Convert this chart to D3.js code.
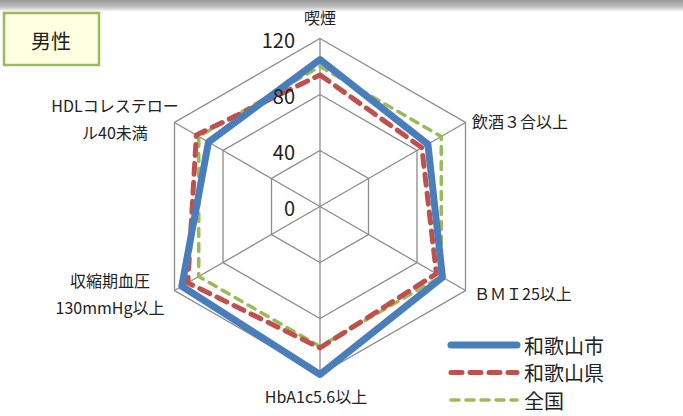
<!DOCTYPE html>
<html lang="ja">
    <head>
        <meta charset="utf-8">
        <title>D3: 男性 レーダーチャート</title>
        <script src="https://d3js.org/d3.v7.min.js"></script>
        <style type="text/css">
         body { margin: 0; background: #fff; }
         text { font-family: "Noto Sans CJK JP", "Noto Sans", sans-serif; fill: #222; }
        </style>
    </head>
    <body>
        <script type="text/javascript">
         //Data
         var categories = ["喫煙", "飲酒３合以上", "ＢＭＩ25以上", "HbA1c5.6以上", "収縮期血圧130mmHg以上", "HDLコレステロール40未満"];
         var cityValues = [105, 89, 101, 120, 114, 92];
         var prefValues = [94, 84, 96, 101, 109, 102];
         var nationValues = [100, 100, 100, 100, 100, 100];
         var seriesNames = ["和歌山市", "和歌山県", "全国"];
         var tickValues = [0, 40, 80, 120];

         //Width and height
         var width = 683;
         var height = 416;
         var cx = 320, cy = 206.5;

         var r = d3.scaleLinear().domain([0, 120]).range([0, 168]);
         var angle = d3.scalePoint().domain(d3.range(categories.length)).range([0, 2 * Math.PI * 5 / 6]);

         var svg = d3.select("body")
                     .append("svg")
                     .attr("width", width)
                     .attr("height", height);

         //Top shadow band
         var grad = svg.append("defs").append("linearGradient")
                       .attr("id", "shade").attr("x1", 0).attr("y1", 0).attr("x2", 0).attr("y2", 1);
         grad.append("stop").attr("offset", "0%").attr("stop-color", "#9a9a9a");
         grad.append("stop").attr("offset", "50%").attr("stop-color", "#b8b8b8");
         grad.append("stop").attr("offset", "100%").attr("stop-color", "#ffffff");
         svg.append("rect").attr("x", 0).attr("y", 0).attr("width", width).attr("height", 12)
            .attr("fill", "url(#shade)");

         //Title box
         svg.append("rect")
            .attr("x", 4).attr("y", 13).attr("width", 95).attr("height", 52)
            .attr("fill", "#ffffe1")
            .attr("stroke", "#9bbb59")
            .attr("stroke-width", 2.5);
         svg.append("text")
            .attr("x", 51).attr("y", 40)
            .attr("text-anchor", "middle")
            .attr("dominant-baseline", "central")
            .style("font-size", "20px")
            .text("男性");

         var g = svg.append("g").attr("transform", "translate(" + cx + "," + cy + ")");

         var radial = d3.lineRadial()
                        .angle(function(d, i) { return angle(i); })
                        .radius(function(d) { return r(d); })
                        .curve(d3.curveLinearClosed);

         //Grid rings
         g.selectAll(".ring")
          .data(tickValues.slice(1))
          .enter()
          .append("path")
          .attr("d", function(t) { return radial(categories.map(function() { return t; })); })
          .attr("fill", "none")
          .attr("stroke", "#8c8c8c")
          .attr("stroke-width", 1.3);

         //Spokes
         g.selectAll(".spoke")
          .data(categories)
          .enter()
          .append("line")
          .attr("x1", 0).attr("y1", 0)
          .attr("x2", function(d, i) { return r(120) * Math.sin(angle(i)); })
          .attr("y2", function(d, i) { return -r(120) * Math.cos(angle(i)); })
          .attr("stroke", "#8c8c8c")
          .attr("stroke-width", 1.3);

         //Series
         var series = [
             {name: seriesNames[0], values: cityValues, color: "#4a7ebb", width: 7, dash: null},
             {name: seriesNames[1], values: prefValues, color: "#c0504d", width: 5, dash: "11,8"},
             {name: seriesNames[2], values: nationValues, color: "#9bbb59", width: 3.5, dash: "8,7"}
         ];

         g.selectAll(".series")
          .data(series.slice().reverse())
          .enter()
          .append("path")
          .attr("d", function(s) { return radial(s.values); })
          .attr("fill", "none")
          .attr("stroke", function(s) { return s.color; })
          .attr("stroke-width", function(s) { return s.width; })
          .attr("stroke-dasharray", function(s) { return s.dash; })
          .attr("stroke-linejoin", "round")
          .attr("stroke-linecap", "round");

         //Tick labels (on top of the lines)
         g.selectAll(".tick")
          .data(tickValues)
          .enter()
          .append("text")
          .attr("x", -25)
          .attr("y", function(t) { return -r(t) + 1; })
          .attr("text-anchor", "end")
          .attr("dominant-baseline", "central")
          .style("font-size", "20px")
          .text(function(t) { return t; });

         //Category labels
         var labelLines = [
             {lines: ["喫煙"], x: 320, y: 17, anchor: "middle"},
             {lines: ["飲酒３合以上"], x: 472, y: 121, anchor: "start"},
             {lines: ["ＢＭＩ25以上"], x: 474, y: 293, anchor: "start"},
             {lines: ["HbA1c5.6以上"], x: 316, y: 396, anchor: "middle"},
             {lines: ["収縮期血圧", "130mmHg以上"], x: 110, y: 280, anchor: "middle"},
             {lines: ["HDLコレステロー", "ル40未満"], x: 115, y: 105, anchor: "middle"}
         ];
         labelLines.forEach(function(l) {
             var t = svg.append("text")
                        .attr("text-anchor", l.anchor)
                        .style("font-size", "16px");
             l.lines.forEach(function(line, i) {
                 t.append("tspan")
                  .attr("x", l.x)
                  .attr("y", l.y + i * 27)
                  .attr("dominant-baseline", "central")
                  .text(line);
             });
         });

         //Legend
         var legend = svg.selectAll(".legend")
                         .data(series)
                         .enter()
                         .append("g")
                         .attr("transform", function(s, i) { return "translate(449," + (345 + i * 27.5) + ")"; });
         legend.append("line")
               .attr("x1", 2).attr("x2", 68)
               .attr("stroke", function(s) { return s.color; })
               .attr("stroke-width", function(s) { return s.width; })
               .attr("stroke-dasharray", function(s) { return s.dash; })
               .attr("stroke-linecap", "round");
         legend.append("text")
               .attr("x", 75)
               .attr("dominant-baseline", "central")
               .style("font-size", "20px")
               .text(function(s) { return s.name; });
        </script>
    </body>
</html>
